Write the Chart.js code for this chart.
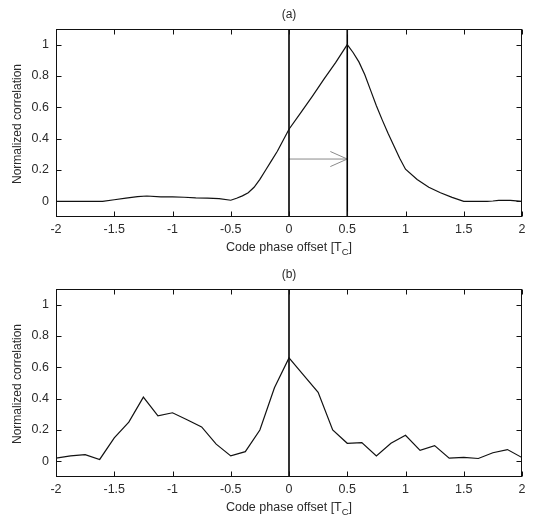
<!DOCTYPE html>
<html>
<head>
<meta charset="utf-8">
<script src="https://cdn.jsdelivr.net/npm/chart.js@4.4.0/dist/chart.umd.min.js"></script>
<style>
  body { margin: 0; background: #fff; }
  .panel { position: absolute; left: 0; width: 534px; height: 260px; }
</style>
</head>
<body>
<div class="panel" style="top:0"><canvas id="chartA"></canvas></div>
<div class="panel" style="top:260px"><canvas id="chartB"></canvas></div>
<script>
// tick labels
const xTicks = [-2, -1.5, -1, -0.5, 0, 0.5, 1, 1.5, 2];
const yTicks = [0, 0.2, 0.4, 0.6, 0.8, 1];

// (a) correlation
const offsetA = [-2, -1.6, -1.5, -1.4, -1.3, -1.22, -1.1, -1.0, -0.9, -0.8, -0.7, -0.6, -0.5, -0.45, -0.4, -0.35, -0.3, -0.25, -0.2, -0.15, -0.1, -0.05, 0, 0.1, 0.2, 0.3, 0.4, 0.5, 0.55, 0.6, 0.65, 0.7, 0.75, 0.8, 0.85, 0.9, 0.95, 1.0, 1.1, 1.2, 1.3, 1.4, 1.5, 1.6, 1.7, 1.75, 1.8, 1.9, 2.0];
const corrA = [0, 0, 0.01, 0.02, 0.03, 0.034, 0.028, 0.028, 0.026, 0.022, 0.02, 0.017, 0.007, 0.02, 0.035, 0.055, 0.09, 0.14, 0.2, 0.26, 0.32, 0.39, 0.46, 0.565, 0.67, 0.78, 0.885, 1.0, 0.95, 0.89, 0.81, 0.71, 0.61, 0.52, 0.435, 0.355, 0.275, 0.205, 0.14, 0.09, 0.055, 0.025, 0.0, 0, 0, 0.002, 0.006, 0.006, 0];

// (b) correlation
const offsetB = [-2, -1.875, -1.75, -1.625, -1.5, -1.375, -1.25, -1.125, -1, -0.875, -0.75, -0.625, -0.5, -0.375, -0.25, -0.125, 0, 0.125, 0.25, 0.375, 0.5, 0.625, 0.75, 0.875, 1, 1.125, 1.25, 1.375, 1.5, 1.625, 1.75, 1.875, 2];
const corrB = [0.02, 0.035, 0.043, 0.012, 0.15, 0.25, 0.41, 0.29, 0.31, 0.265, 0.22, 0.11, 0.035, 0.062, 0.2, 0.47, 0.66, 0.55, 0.44, 0.2, 0.115, 0.12, 0.034, 0.115, 0.166, 0.07, 0.1, 0.02, 0.025, 0.018, 0.055, 0.075, 0.024];

// vertical marker lines and the shift arrow in (a)
const markersA = [0, 0.5];
const markersB = [0];
const arrowShaftX = [0, 0.5];
const arrowShaftY = [0.27, 0.27];
const arrowHeadX = [0.355, 0.5, 0.355];
const arrowHeadY = [0.318, 0.27, 0.222];

const FONT = "'Liberation Sans', Arial, sans-serif";
const TEXT = "#2a2a2a";

function pts(xs, ys) {
  return xs.map((x, i) => ({ x: x, y: ys[i] }));
}

// box, inward ticks and texts like a MATLAB axes
const matlabAxes = {
  id: "matlabAxes",
  afterDraw(chart, args, opts) {
    const { ctx, chartArea: a } = chart;
    const sx = chart.scales.x, sy = chart.scales.y;
    const L = Math.round(a.left) + 0.5, R = Math.round(a.right) - 0.5;
    const T = Math.round(a.top) + 0.5, B = Math.round(a.bottom) - 0.5;
    ctx.save();
    ctx.strokeStyle = "#111";
    ctx.lineWidth = 1;
    ctx.strokeRect(L, T, R - L, B - T);
    ctx.beginPath();
    xTicks.forEach((v) => {
      const p = Math.round(sx.getPixelForValue(v)) + 0.5;
      ctx.moveTo(p, B); ctx.lineTo(p, B - 5);
      ctx.moveTo(p, T); ctx.lineTo(p, T + 5);
    });
    yTicks.forEach((v) => {
      const p = Math.round(sy.getPixelForValue(v)) + 0.5;
      ctx.moveTo(L, p); ctx.lineTo(L + 5, p);
      ctx.moveTo(R, p); ctx.lineTo(R - 5, p);
    });
    ctx.stroke();

    const cx = (a.left + a.right) / 2;
    ctx.fillStyle = TEXT;
    ctx.textBaseline = "middle";
    ctx.textAlign = "center";
    ctx.font = "12px " + FONT;
    ctx.fillText(opts.title, cx, 15);

    // x title with subscript C
    const main = "Code phase offset [T";
    ctx.font = "12.5px " + FONT;
    const w1 = ctx.measureText(main).width;
    ctx.font = "9.5px " + FONT;
    const w2 = ctx.measureText("C").width;
    ctx.font = "12.5px " + FONT;
    const w3 = ctx.measureText("]").width;
    const x0 = cx - (w1 + w2 + w3) / 2;
    const yT = a.bottom + 31;
    ctx.textAlign = "left";
    ctx.fillText(main, x0, yT);
    ctx.font = "9.5px " + FONT;
    ctx.fillText("C", x0 + w1, yT + 4);
    ctx.font = "12.5px " + FONT;
    ctx.fillText("]", x0 + w1 + w2, yT);

    // y title
    ctx.translate(18, (a.top + a.bottom) / 2 + 1);
    ctx.rotate(-Math.PI / 2);
    ctx.textAlign = "center";
    ctx.font = "12px " + FONT;
    ctx.fillText("Normalized correlation", 0, 0);
    ctx.restore();
  }
};

function makeChart(id, title, xs, ys, markers, extra) {
  const datasets = [
    { data: pts(xs, ys), borderColor: "#111", borderWidth: 1.2 }
  ];
  markers.forEach((m) => {
    datasets.push({ data: pts([m, m], [-0.1, 1.1]), borderColor: "#000", borderWidth: 1.6 });
  });
  extra.forEach((d) => datasets.push(d));

  return new Chart(document.getElementById(id), {
    type: "line",
    data: { datasets: datasets },
    plugins: [matlabAxes],
    options: {
      responsive: true,
      maintainAspectRatio: false,
      animation: false,
      layout: { padding: { top: 29, right: 12, left: 0, bottom: 0 } },
      elements: { point: { radius: 0 }, line: { tension: 0 } },
      plugins: {
        legend: { display: false },
        tooltip: { enabled: false },
        matlabAxes: { title: title }
      },
      scales: {
        x: {
          type: "linear",
          min: -2,
          max: 2,
          grid: { display: false, drawTicks: false },
          border: { display: false },
          afterBuildTicks: (s) => { s.ticks = xTicks.map((v) => ({ value: v })); },
          afterFit: (s) => { s.height = 43; },
          ticks: {
            font: { family: FONT, size: 12.5 },
            color: TEXT,
            padding: 5,
            maxRotation: 0,
            autoSkip: false,
            callback: (v) => String(v)
          }
        },
        y: {
          min: -0.1,
          max: 1.1,
          grid: { display: false, drawTicks: false },
          border: { display: false },
          afterBuildTicks: (s) => { s.ticks = yTicks.map((v) => ({ value: v })); },
          afterFit: (s) => { s.width = 56; },
          ticks: {
            font: { family: FONT, size: 12.5 },
            color: TEXT,
            padding: 7,
            callback: (v) => String(Math.round(v * 10) / 10)
          }
        }
      }
    }
  });
}

makeChart("chartA", "(a)", offsetA, corrA, markersA, [
  { data: pts(arrowShaftX, arrowShaftY), borderColor: "#8a8a8a", borderWidth: 1 },
  { data: pts(arrowHeadX, arrowHeadY), borderColor: "#8a8a8a", borderWidth: 1 }
]);
makeChart("chartB", "(b)", offsetB, corrB, markersB, []);
</script>
</body>
</html>
